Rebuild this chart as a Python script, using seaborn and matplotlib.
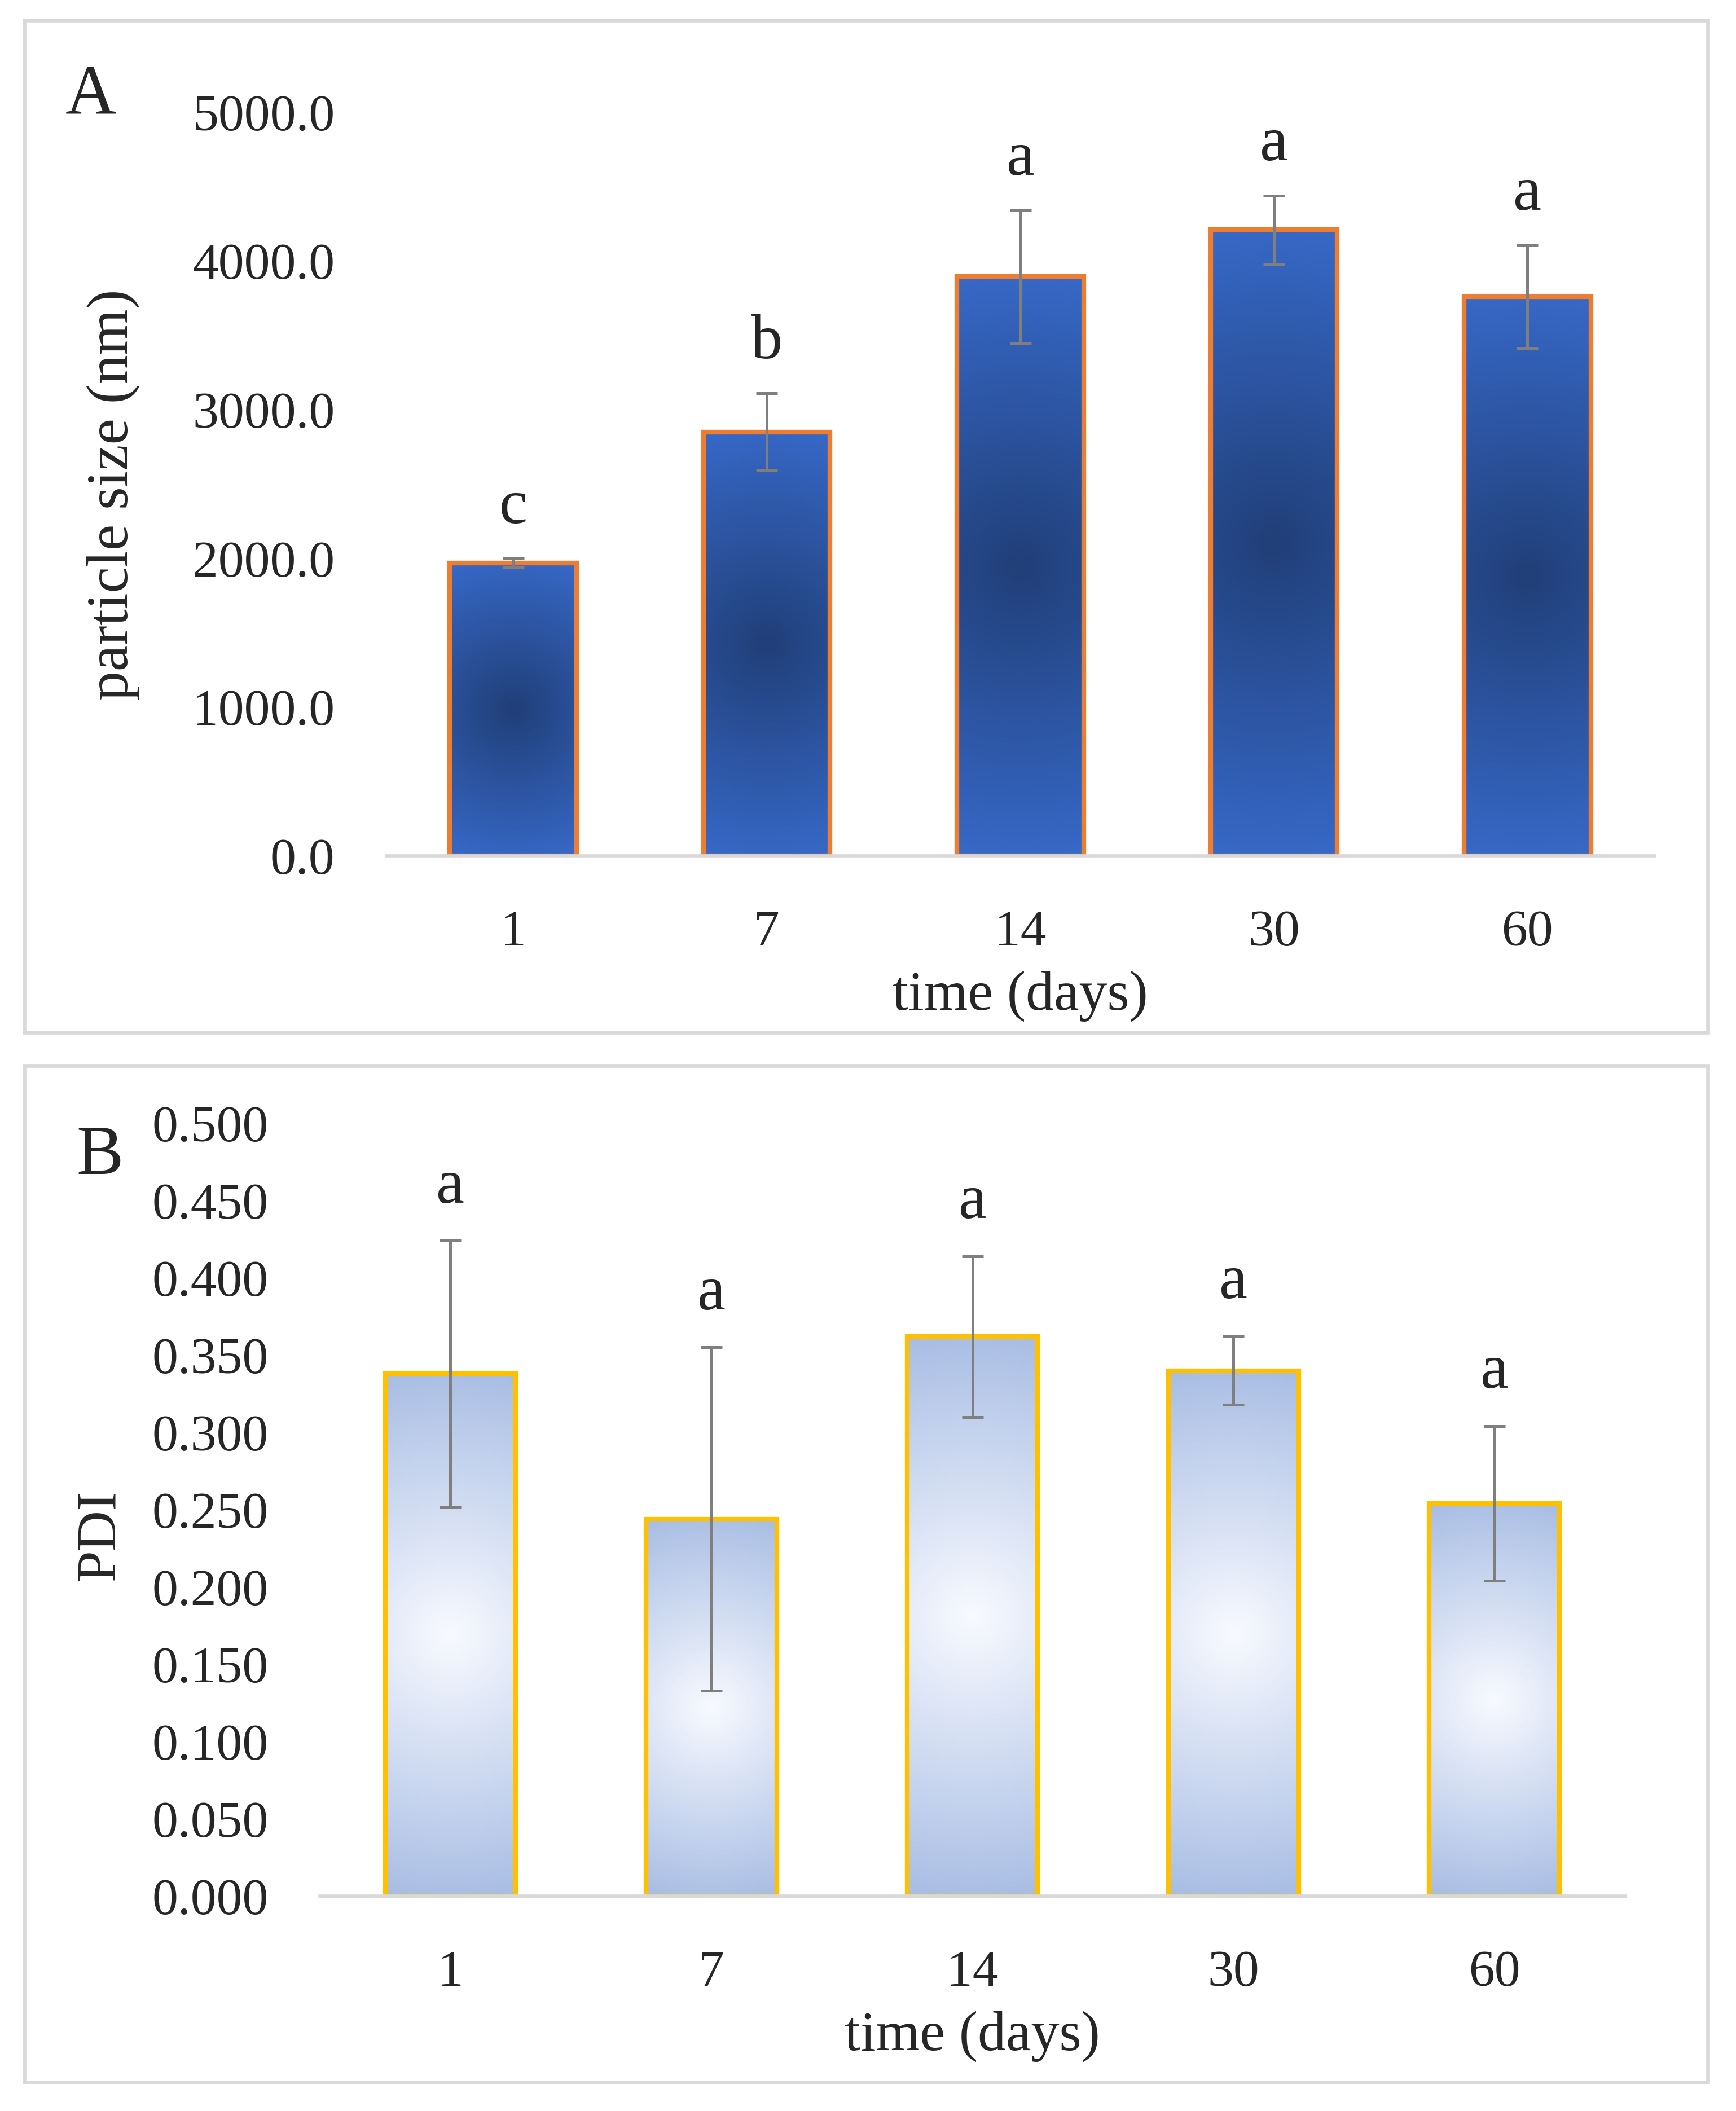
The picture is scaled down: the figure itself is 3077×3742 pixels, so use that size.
import numpy as np
import matplotlib
matplotlib.use("Agg")
import matplotlib.pyplot as plt
import matplotlib.colors as mcolors
from matplotlib.patches import Rectangle
import seaborn as sns

# values
days = ['1', '7', '14', '30', '60']
size_mean = [1970, 2850, 3895, 4210, 3760]
size_sd = [30, 260, 445, 230, 345]
size_letters = ['c', 'b', 'a', 'a', 'a']
pdi_mean = [0.338, 0.244, 0.362, 0.340, 0.254]
pdi_sd = [0.086, 0.111, 0.052, 0.022, 0.050]
pdi_letters = ['a', 'a', 'a', 'a', 'a']

sns.set_style('white')
plt.rcParams['font.family'] = ['Liberation Serif', 'DejaVu Serif']
plt.rcParams['axes.unicode_minus'] = False


def gradient_bars(ax, edge_hex, center_hex):
    # radial fill from the middle of each bar (like the Excel "from center" gradient)
    c0 = np.array(mcolors.to_rgb(center_hex))
    c1 = np.array(mcolors.to_rgb(edge_hex))
    for bar in list(ax.patches):
        x0, y0 = bar.get_x(), bar.get_y()
        w, h = bar.get_width(), bar.get_height()
        p0 = ax.transData.transform((x0, y0))
        p1 = ax.transData.transform((x0 + w, y0 + h))
        pw, ph = abs(p1[0] - p0[0]), abs(p1[1] - p0[1])
        nx, ny = 60, max(int(60 * ph / pw), 2)
        gx = np.linspace(-pw / 2, pw / 2, nx)
        gy = np.linspace(-ph / 2, ph / 2, ny)
        X, Y = np.meshgrid(gx, gy)
        r = np.sqrt(X ** 2 + Y ** 2) / np.hypot(pw / 2, ph / 2)
        r = np.clip(r, 0, 1)
        img = c0 + (c1 - c0) * r[..., None]
        im = ax.imshow(img, extent=[x0, x0 + w, y0, y0 + h], origin='lower',
                       aspect='auto', interpolation='bilinear', zorder=1)
        im.set_clip_path(bar)
        bar.set_facecolor('none')
        bar.set_zorder(2)


def style_axes(ax, fmt):
    sns.despine(ax=ax, left=True)
    ax.spines['bottom'].set_color('#d9d9d9')
    ax.spines['bottom'].set_linewidth(1.6)
    ax.tick_params(axis='both', length=0, labelsize=22)
    ax.tick_params(axis='y', pad=22)
    ax.tick_params(axis='x', pad=23)
    ax.yaxis.set_major_formatter(matplotlib.ticker.FormatStrFormatter(fmt))
    ax.grid(False)


fig = plt.figure(figsize=(3077 / 300, 3742 / 300), dpi=300)

# panel frames
for yb, hb in [(0.5110, 0.4794), (0.0136, 0.4816)]:
    fig.add_artist(Rectangle((0.014, yb), 0.9698, hb, transform=fig.transFigure,
                             fill=False, edgecolor='#d9d9d9', linewidth=1.6))

# ---- A: particle size ----
axA = fig.add_axes([0.2226, 0.5946, 0.7303, 0.3522])
sns.barplot(x=days, y=size_mean, ax=axA, width=0.5, color='#3567c4',
            edgecolor='#ed7d31', linewidth=2.0, errorbar=None)
axA.set_xlim(-0.5, 4.5)
axA.set_ylim(0, 5000)
axA.set_yticks(np.arange(0, 5001, 1000))
style_axes(axA, '%.1f')
gradient_bars(axA, '#3769c8', '#213f78')
axA.errorbar(range(len(days)), size_mean, yerr=size_sd, fmt='none',
             ecolor='#7f7f7f', elinewidth=1.2, capsize=4.5, capthick=1.2, zorder=3)
for i, lab in enumerate(size_letters):
    axA.text(i, size_mean[i] + size_sd[i] + 340, lab, ha='center', va='center',
             fontsize=27)
axA.set_xlabel('time (days)', fontsize=24, labelpad=6)
fig.text(0.0654, 0.7656, 'particle size (nm)', rotation=90, ha='center',
         va='center', fontsize=25)
fig.text(0.0524, 0.9543, 'A', ha='center', va='center', fontsize=30)

# ---- B: PDI ----
axB = fig.add_axes([0.1843, 0.1018, 0.7517, 0.3661])
sns.barplot(x=days, y=pdi_mean, ax=axB, width=0.5, color='#a9bee4',
            edgecolor='#ffc000', linewidth=2.0, errorbar=None)
axB.set_xlim(-0.5, 4.5)
axB.set_ylim(0, 0.5)
axB.set_yticks(np.arange(0, 0.501, 0.05))
style_axes(axB, '%.3f')
gradient_bars(axB, '#a8bde4', '#f8faff')
axB.errorbar(range(len(days)), pdi_mean, yerr=pdi_sd, fmt='none',
             ecolor='#7f7f7f', elinewidth=1.2, capsize=4.5, capthick=1.2, zorder=3)
for i, lab in enumerate(pdi_letters):
    axB.text(i, pdi_mean[i] + pdi_sd[i] + 0.0346, lab, ha='center', va='center',
             fontsize=27)
axB.set_xlabel('time (days)', fontsize=24, labelpad=6)
fig.text(0.0578, 0.2728, 'PDI', rotation=90, ha='center', va='center', fontsize=24)
fig.text(0.0577, 0.4519, 'B', ha='center', va='center', fontsize=30)

fig.savefig('out.png', dpi=300)
